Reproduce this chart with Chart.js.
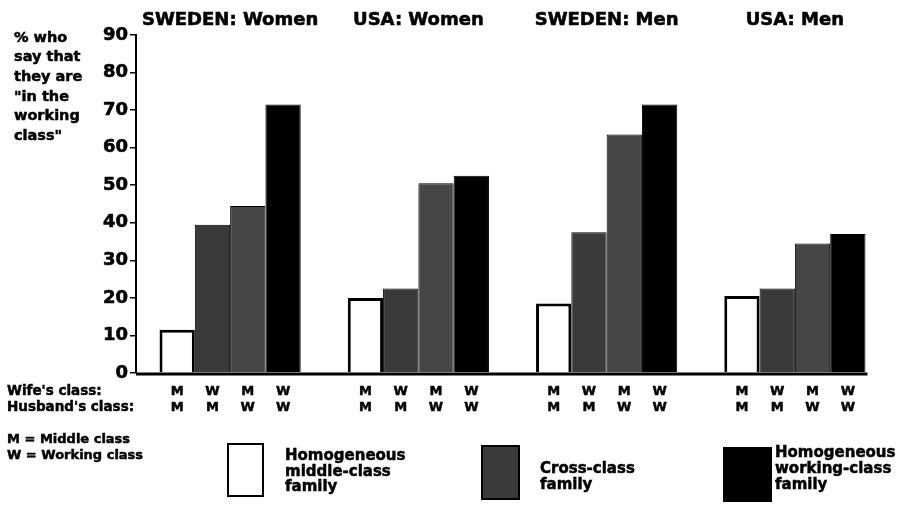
<!DOCTYPE html>
<html>
<head>
<meta charset="utf-8">
<script src="https://cdn.jsdelivr.net/npm/chart.js@4"></script>
<style>
  html,body{margin:0;padding:0;background:#fff}
  #wrap{position:relative;width:897px;height:507px;overflow:hidden}
  #wrap canvas{position:absolute;left:0;top:0}
  .t{position:absolute;line-height:1;white-space:nowrap;font-weight:bold;font-family:"DejaVu Sans",sans-serif;color:#000;-webkit-text-stroke:0.5px #000}
  .box{position:absolute;box-sizing:border-box;border:2px solid #000}
</style>
</head>
<body>
<div id="wrap"><canvas id="c" width="897" height="507"></canvas></div>
<script>
const $ = (q) => document.querySelector(q);

// ---- data ----
const groups       = ["SWEDEN: Women","USA: Women","SWEDEN: Men","USA: Men"];
const wifeClass    = ["M","W","M","W"];
const husbandClass = ["M","M","W","W"];
const homMiddle    = [11.5, 20.0, 18.5, 20.5];   // wife M, husband M
const crossWM      = [39.5, 22.5, 37.5, 22.5];   // wife W, husband M
const crossMW      = [44.5, 50.5, 63.5, 34.5];   // wife M, husband W
const homWorking   = [71.5, 52.5, 71.5, 37.0];   // wife W, husband W
const yMin=0, yMax=90, yStep=10;

const FONT='"DejaVu Sans", sans-serif';
const GRAY="#3a3a3a", GRAY2="#464646";

// text helper: place a line by its baseline
function put(txt,x,base,size){
  const d=document.createElement("div"); d.className="t"; d.textContent=txt;
  d.style.left=x+"px"; d.style.top=(base-0.846*size)+"px"; d.style.fontSize=size+"px";
  $("#wrap").appendChild(d);
}
function box(x,y,w,h,fill){
  const d=document.createElement("div"); d.className="box";
  Object.assign(d.style,{left:x+"px",top:y+"px",width:w+"px",height:h+"px",background:fill});
  $("#wrap").appendChild(d);
}

/* letters under bars + baseline */
const classRows={
  id:"classRows",
  afterDraw(chart){
    const {ctx}=chart; const y0=chart.scales.y.getPixelForValue(0);
    ctx.save();
    ctx.fillStyle="#000"; ctx.strokeStyle="#000"; ctx.lineWidth=0.5;
    ctx.font="bold 13px "+FONT; ctx.textAlign="center"; ctx.textBaseline="alphabetic";
    chart.data.datasets.forEach((ds,i)=>{
      chart.getDatasetMeta(i).data.forEach(b=>{
        ctx.fillText(wifeClass[i],b.x,y0+22); ctx.strokeText(wifeClass[i],b.x,y0+22);
        ctx.fillText(husbandClass[i],b.x,y0+38); ctx.strokeText(husbandClass[i],b.x,y0+38);
      });
    });
    const last=chart.getDatasetMeta(3).data[3];
    ctx.lineWidth=3;
    ctx.beginPath(); ctx.moveTo(chart.chartArea.left,y0+1); ctx.lineTo(last.x+last.width/2+2,y0+1); ctx.stroke();
    ctx.restore();
  }
};

new Chart($("#c").getContext("2d"),{
  type:"bar",
  data:{
    labels:groups,
    datasets:[
      {label:"Homogeneous middle-class family",data:homMiddle,backgroundColor:"#fff",borderColor:"#000",borderWidth:3},
      {label:"Cross-class family (W/M)",data:crossWM,backgroundColor:GRAY,borderColor:"#000",borderWidth:1},
      {label:"Cross-class family (M/W)",data:crossMW,backgroundColor:GRAY2,borderColor:"#000",borderWidth:1},
      {label:"Homogeneous working-class family",data:homWorking,backgroundColor:"#000",borderColor:"#000",borderWidth:1}
    ]
  },
  options:{
    responsive:false,animation:false,
    layout:{padding:{left:0,top:0,right:8,bottom:134}},
    datasets:{bar:{categoryPercentage:0.75,barPercentage:1}},
    plugins:{legend:{display:false},tooltip:{enabled:false}},
    scales:{
      x:{
        position:"top",
        grid:{display:false,drawTicks:false},border:{display:false},
        ticks:{color:"#000",font:{family:FONT,size:18,weight:"bold"},padding:4,maxRotation:0,textStrokeColor:"#000",textStrokeWidth:0.6},
        afterFit(s){ s.height=35; }
      },
      y:{
        min:yMin,max:yMax,
        grid:{display:true,drawOnChartArea:false,drawTicks:true,tickLength:6,color:"#000",lineWidth:1.5},
        border:{display:true,color:"#000",width:2},
        ticks:{stepSize:yStep,color:"#000",font:{family:FONT,size:18,weight:"bold"},padding:2,textStrokeColor:"#000",textStrokeWidth:0.6},
        afterFit(s){ s.width=136; }
      }
    }
  },
  plugins:[classRows]
});

// y-axis title
["% who","say that","they are","\"in the","working","class\""].forEach((l,i)=>put(l,14,42+i*19.6,14.5));

// row labels
put("Wife's  class:",7,395,13.5);
put("Husband's  class:",7,411,13.5);
put("M = Middle  class",7,443,13);
put("W = Working  class",7,459,13);

// legend
box(227,443,37,54,"#fff");
["Homogeneous","middle-class","family"].forEach((l,i)=>put(l,285,461+i*15.5,15));
box(481,445,39,55,GRAY);
["Cross-class","family"].forEach((l,i)=>put(l,540,474+i*16,15));
box(723,447,49,55,"#000");
["Homogeneous","working-class","family"].forEach((l,i)=>put(l,775,458+i*16,15));
</script>
</body>
</html>
